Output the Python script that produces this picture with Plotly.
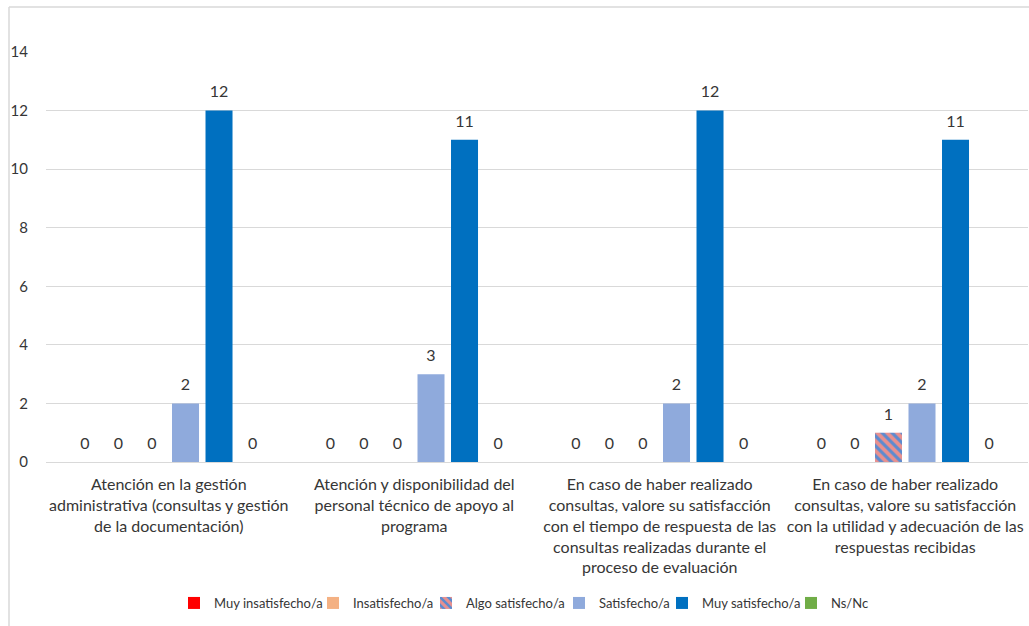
import plotly.graph_objects as go

categories = [
    "Atención en la gestión<br>administrativa (consultas y gestión<br>de la documentación)",
    "Atención y disponibilidad del<br>personal técnico de apoyo al<br>programa",
    "En caso de haber realizado<br>consultas, valore su satisfacción<br>con el tiempo de respuesta de las<br>consultas realizadas durante el<br>proceso de evaluación",
    "En caso de haber realizado<br>consultas, valore su satisfacción<br>con la utilidad y adecuación de las<br>respuestas recibidas",
]
series_names = ["Muy insatisfecho/a", "Insatisfecho/a", "Algo satisfecho/a",
                "Satisfecho/a", "Muy satisfecho/a", "Ns/Nc"]
muy_insatisfecho = [0, 0, 0, 0]
insatisfecho = [0, 0, 0, 0]
algo_satisfecho = [0, 0, 0, 1]
satisfecho = [2, 3, 2, 2]
muy_satisfecho = [12, 11, 12, 11]
ns_nc = [0, 0, 0, 0]
values = [muy_insatisfecho, insatisfecho, algo_satisfecho, satisfecho, muy_satisfecho, ns_nc]
colors = ["#FF0000", "#F4B183", "#E8908F", "#8FAADC", "#0070C0", "#70AD47"]
legend_widths = [94, 68, 88, 58, 84, 35]

FONT = "Lato"
TXT = "#363636"
W, H = 1029, 626
ML, MR, MT, MB = 46, 1, 52, 164
PW, PH = W - ML - MR, H - MT - MB
GAP = 0.181

fig = go.Figure()
for name, vals, col, lw in zip(series_names, values, colors, legend_widths):
    marker = dict(color=col, line=dict(width=0))
    if name == "Algo satisfecho/a":
        marker["pattern"] = dict(shape="\\", fgcolor="#5B8BD0", bgcolor="#E8908F",
                                 size=7, solidity=0.45, fillmode="replace")
    fig.add_trace(go.Bar(name=name, x=categories, y=vals, marker=marker,
                         legendwidth=lw, hoverinfo="x+y+name"))

# data labels, grouped like the bars
for name, vals in zip(series_names, values):
    fig.add_trace(go.Scatter(
        x=categories, y=vals, mode="markers+text", text=[str(v) for v in vals],
        textposition="top center", showlegend=False, hoverinfo="skip",
        marker=dict(size=13, opacity=0),
        textfont=dict(family=FONT, size=16, color=TXT), cliponaxis=False,
    ))

def px_x(p):
    return (p - ML) / PW

def px_y(p):
    return (H - MB - p) / PH

fig.update_layout(
    width=W, height=H,
    margin=dict(l=ML, r=MR, t=MT, b=MB, autoexpand=False),
    paper_bgcolor="white", plot_bgcolor="white",
    barmode="group", bargap=GAP, bargroupgap=0.194,
    scattermode="group", scattergap=GAP,
    font=dict(family=FONT, size=15, color=TXT),
    showlegend=True,
    legend=dict(orientation="h", x=0.5 + 8 / W, xref="container", xanchor="center",
                y=1 - 603 / H, yref="container", yanchor="middle",
                font=dict(family=FONT, size=13, color=TXT),
                itemwidth=30, traceorder="normal"),
    shapes=[
        dict(type="line", xref="paper", yref="paper", x0=px_x(9), x1=px_x(1040),
             y0=px_y(7), y1=px_y(7), line=dict(color="#d9d9d9", width=1.5)),
        dict(type="line", xref="paper", yref="paper", x0=px_x(9), x1=px_x(9),
             y0=px_y(7), y1=px_y(640), line=dict(color="#d9d9d9", width=1.5)),
    ],
)
fig.update_yaxes(range=[0, 14], dtick=2, showgrid=True, gridcolor="#d9d9d9",
                 zeroline=False, showline=False, ticklabelstandoff=17, automargin=False,
                 tickfont=dict(family=FONT, size=15, color=TXT))
fig.update_xaxes(showline=True, linecolor="#d9d9d9", linewidth=1, automargin=False,
                 ticks="", ticklabelstandoff=8,
                 tickfont=dict(family=FONT, size=16, color=TXT))

fig.write_html("out.html", config={"displayModeBar": False},
               post_script="document.body.style.margin='0';")
